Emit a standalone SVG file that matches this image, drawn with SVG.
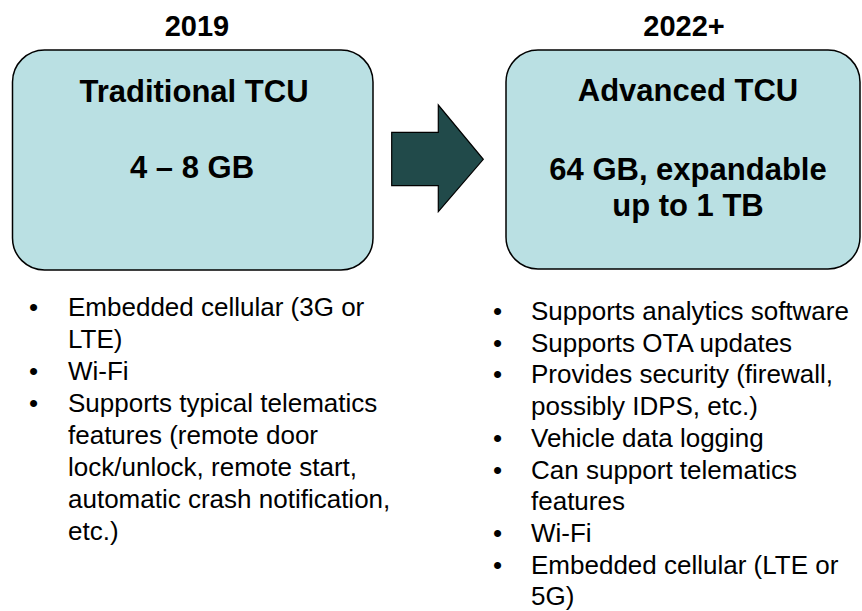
<svg xmlns="http://www.w3.org/2000/svg" width="862" height="611" viewBox="0 0 862 611">
<style>
.box{fill:#BAE0E3;stroke:#000;stroke-width:1.5}
.yr{font-family:"Liberation Sans",Arial,sans-serif;font-weight:bold;font-size:29px;fill:#000;text-anchor:middle}
.ttl{font-family:"Liberation Sans",Arial,sans-serif;font-weight:bold;font-size:31px;fill:#000;text-anchor:middle}
.bl{font-family:"Liberation Sans",Arial,sans-serif;font-size:26px;fill:#000}
</style>
<rect width="862" height="611" fill="#fff"/>
<g id="year-2019"><text class="yr" x="197" y="36">2019</text></g>
<g id="year-2022"><text class="yr" x="684" y="36">2022+</text></g>
<g id="traditional-tcu">
<rect class="box" x="12.5" y="50" width="360.5" height="220" rx="32" ry="32"/>
<text class="ttl" x="194" y="102">Traditional TCU</text>
<text class="ttl" x="192" y="178">4 – 8 GB</text>
</g>
<g id="advanced-tcu">
<rect class="box" x="506" y="50" width="354" height="219" rx="32" ry="32"/>
<text class="ttl" x="688" y="101">Advanced TCU</text>
<text class="ttl" x="688" y="180">64 GB, expandable</text>
<text class="ttl" x="688" y="216">up to 1 TB</text>
</g>
<g id="connectors">
<path d="M391.7,132.3 H438.3 V105 L483.3,159.3 L438.3,211.7 V185.7 H391.7 Z" fill="#214A4A" stroke="#000" stroke-width="1.2"/>
</g>
<g id="left-bullets" class="bl">
<text x="29" y="316">•</text><text x="68" y="316">Embedded cellular (3G or</text>
<text x="68" y="348">LTE)</text>
<text x="29" y="380">•</text><text x="68" y="380">Wi-Fi</text>
<text x="29" y="412">•</text><text x="68" y="412">Supports typical telematics</text>
<text x="68" y="444">features (remote door</text>
<text x="68" y="476">lock/unlock, remote start,</text>
<text x="68" y="508">automatic crash notification,</text>
<text x="68" y="540">etc.)</text>
</g>
<g id="right-bullets" class="bl">
<text x="493" y="320">•</text><text x="531" y="320">Supports analytics software</text>
<text x="493" y="352">•</text><text x="531" y="352">Supports OTA updates</text>
<text x="493" y="383">•</text><text x="531" y="383">Provides security (firewall,</text>
<text x="531" y="415">possibly IDPS, etc.)</text>
<text x="493" y="447">•</text><text x="531" y="447">Vehicle data logging</text>
<text x="493" y="479">•</text><text x="531" y="479">Can support telematics</text>
<text x="531" y="510">features</text>
<text x="493" y="542">•</text><text x="531" y="542">Wi-Fi</text>
<text x="493" y="574">•</text><text x="531" y="574">Embedded cellular (LTE or</text>
<text x="531" y="605">5G)</text>
</g>
</svg>
